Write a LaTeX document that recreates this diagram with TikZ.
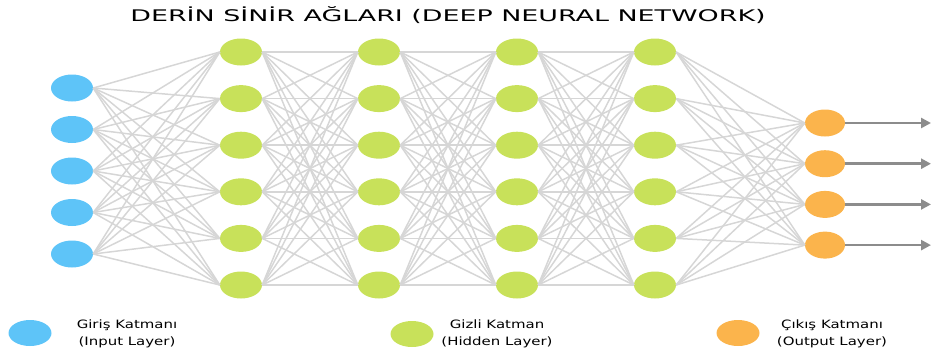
\documentclass[tikz,border=0pt]{standalone}
\usepackage{fontspec}
\setmainfont{DejaVu Sans}
\newfontfamily\titlefont[FakeStretch=1.68]{DejaVu Sans}
\newfontfamily\legendfont[FakeStretch=1.3]{DejaVu Sans}
\usepackage{xcolor}
\usepackage{tikz}
\usetikzlibrary{shapes.geometric,calc,arrows.meta}

\definecolor{inblue}{RGB}{94,196,248}
\definecolor{hidgreen}{RGB}{200,225,90}
\definecolor{outorange}{RGB}{251,180,76}
\definecolor{edgegray}{RGB}{214,214,214}
\definecolor{arrowgray}{RGB}{140,140,140}

\begin{document}
\begin{tikzpicture}[x=1pt,y=-1pt,>={Triangle[length=10pt,width=10pt]},
    neuron/.style={ellipse,inner sep=0pt,minimum width=42pt,minimum height=27pt},
    link/.style={edgegray,line width=1.5pt},
    legendtext/.style={align=center,font=\legendfont\fontsize{11.5}{17}\selectfont}]
    \useasboundingbox (0,0) rectangle (932,360);

    % Title
    \node (title) at (448,15) {\titlefont\fontsize{16}{19}\selectfont DERİN SİNİR AĞLARI (DEEP NEURAL NETWORK)};

    % Input layer
    \foreach \m in {1,...,5}
      \node (IN\m) at (72,{46.5+41.5*\m}) [neuron,fill=inblue] {};

    % Hidden layers
    \foreach \c in {1,...,4}
      \foreach \m in {1,...,6}
        \node (H\c-\m) at ({103+138*\c},{5.4+46.6*\m}) [neuron,fill=hidgreen] {};

    % Output layer
    \foreach \m in {1,...,4}
      \node (OUT\m) at (825,{82.3+40.7*\m}) [neuron,minimum width=40pt,fill=outorange] {};

    % Connect input to first hidden layer
    \foreach \i in {1,...,5}
      \foreach \j in {1,...,6}
        \draw [link] (IN\i.east) -- (H1-\j.west);

    % Connect hidden layers
    \foreach \c/\n in {1/2,2/3,3/4}
      \foreach \i in {1,...,6}
        \foreach \j in {1,...,6}
          \draw [link] (H\c-\i.east) -- (H\n-\j.west);

    % Connect last hidden layer to output
    \foreach \i in {1,...,6}
      \foreach \j in {1,...,4}
        \draw [link] (H4-\i.east) -- (OUT\j.west);

    % Outputs
    \foreach \m in {1,...,4} {
      \coordinate (Y\m) at (931,{82.3+40.7*\m});
      \draw [->,arrowgray,line width=2.5pt] (OUT\m.east) -- (Y\m);
    }

    % Legend
    \node (keyIN) at (30,333) [neuron,minimum width=43pt,minimum height=26pt,fill=inblue] {};
    \node (txtIN) at (127,334) [legendtext] {Giriş Katmanı\\(Input Layer)};
    \node (keyH) at (412,334) [neuron,minimum width=43pt,minimum height=26pt,fill=hidgreen] {};
    \node (txtH) at (497,334) [legendtext] {Gizli Katman\\(Hidden Layer)};
    \node (keyOUT) at (738,333) [neuron,minimum width=43pt,minimum height=26pt,fill=outorange] {};
    \node (txtOUT) at (832,334) [legendtext] {Çıkış Katmanı\\(Output Layer)};
\end{tikzpicture}
\end{document}
